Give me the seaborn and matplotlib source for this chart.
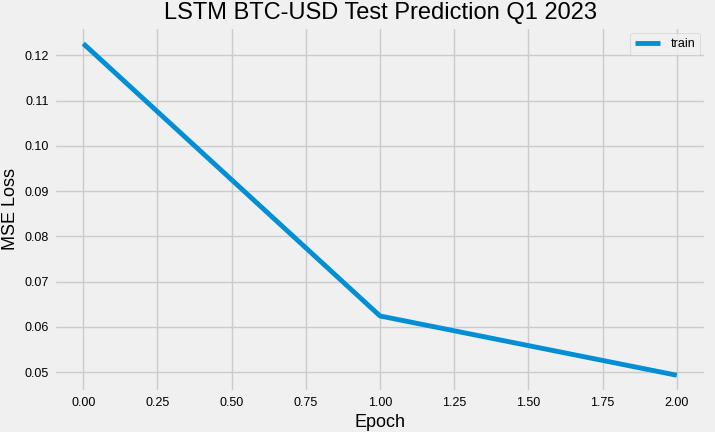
import matplotlib
matplotlib.use("Agg")
import matplotlib.pyplot as plt
import pandas as pd
import seaborn as sns

# training loss per epoch
epochs = [0, 1, 2]
train_loss = [0.1226, 0.0624, 0.0493]

plt.style.use("fivethirtyeight")
plt.rcParams['font.family'] = ['Liberation Sans', 'DejaVu Sans']

df = pd.DataFrame({'Epoch': epochs, 'train': train_loss})

fig, ax = plt.subplots(figsize=(7.15, 4.32), dpi=100)
fig.patch.set_facecolor('#f0f0f0')
sns.lineplot(data=df, x='Epoch', y='train', label='train', ax=ax, color='#008fd5', linewidth=3.5)
ax.set_title('LSTM BTC-USD Test Prediction Q1 2023', fontsize=17)
ax.set_xlabel('Epoch', fontsize=13)
ax.set_ylabel('MSE Loss', fontsize=13)
ax.tick_params(labelsize=9)
ax.set_xticks([0, 0.25, 0.5, 0.75, 1.0, 1.25, 1.5, 1.75, 2.0])
ax.legend(loc='upper right', fontsize=9)
plt.subplots_adjust(left=0.075, right=0.988, top=0.9375, bottom=0.093)
fig.savefig('out.png', dpi=100, facecolor=fig.get_facecolor())
